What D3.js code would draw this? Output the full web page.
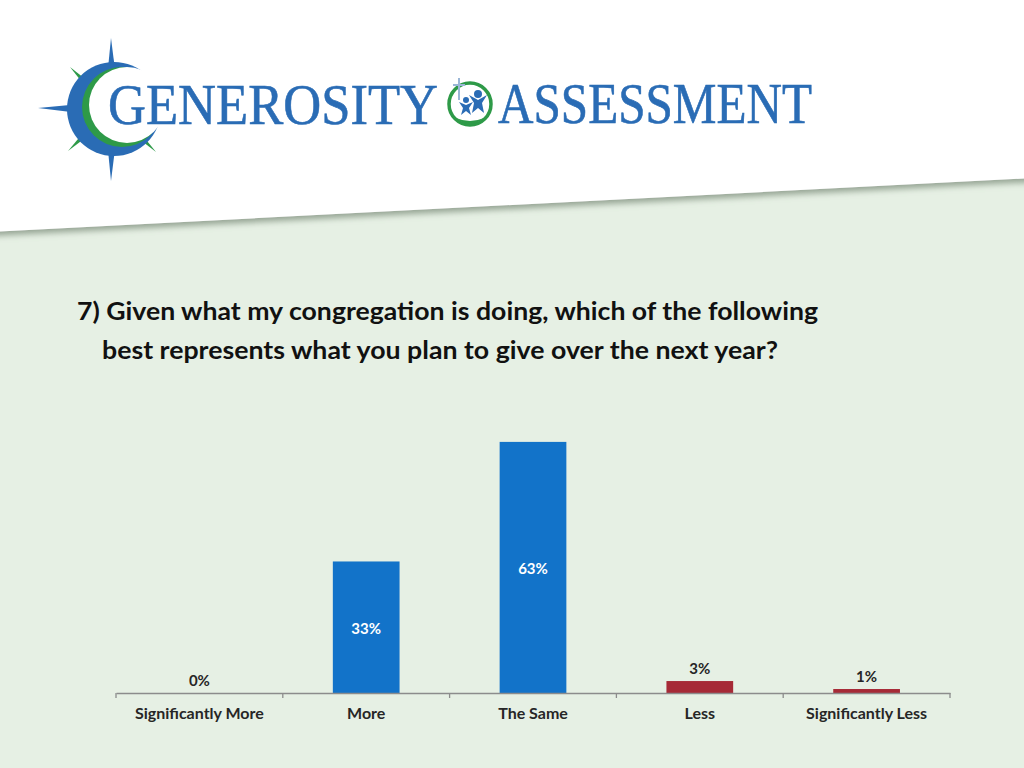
<!DOCTYPE html>
<html>
<head>
<meta charset="utf-8">
<script src="https://cdn.jsdelivr.net/npm/d3@7"></script>
<style>
  html, body { margin: 0; padding: 0; background: #e6f0e4; }
  svg { display: block; }
</style>
</head>
<body>
<svg id="slide" width="1024" height="768"></svg>
<script>
// Chart data
const categories = ["Significantly More", "More", "The Same", "Less", "Significantly Less"];
const values = [0, 33, 63, 3, 1];
const barColors = ["#1273c9", "#1273c9", "#1273c9", "#a62a36", "#a62a36"];
// labels that sit inside the bar (true) or above it (false)
const labelInside = [false, true, true, false, false];

const titleLines = [
  "7) Given what my congregation is doing, which of the following",
  "best represents what you plan to give over the next year?"
];

const width = 1024, height = 768;
const svg = d3.select("#slide");

// Background: green slide with white slanted header
const defs = svg.append("defs");
const shadow = defs.append("filter")
  .attr("id", "hdrShadow")
  .attr("x", "-5%").attr("y", "-5%")
  .attr("width", "110%").attr("height", "130%");
shadow.append("feDropShadow")
  .attr("dx", 0).attr("dy", 4)
  .attr("stdDeviation", 3)
  .attr("flood-color", "#7a8a78")
  .attr("flood-opacity", 0.75);

svg.append("rect")
  .attr("width", width).attr("height", height)
  .attr("fill", "#e6f0e4");

svg.append("path")
  .attr("d", "M-10,-10 L1034,-10 L1034,178 L-10,232 Z")
  .attr("fill", "#ffffff")
  .attr("filter", "url(#hdrShadow)");

// Logo
const logo = svg.append("g").attr("class", "logo");
const blue = "#2a6cb5", green = "#2e9a48";

// compass spikes
const spike = (x1, y1, x2, y2, w, color) => {
  const dx = x2 - x1, dy = y2 - y1, len = Math.hypot(dx, dy);
  const nx = -dy / len * w, ny = dx / len * w;
  logo.append("path")
    .attr("d", `M${x1 - nx},${y1 - ny} L${x2},${y2} L${x1 + nx},${y1 + ny} Z`)
    .attr("fill", color);
};
const cx = 112, cy = 109;
spike(cx, cy, 70, 67, 7, green);
spike(cx, cy, 68, 151, 7, green);
spike(cx, cy, 156, 152, 7, green);
spike(cx, cy, 111, 38, 8, blue);
spike(cx, cy, 111, 181, 8, blue);
spike(cx, cy, 38, 108, 8, blue);

// crescents
logo.append("circle").attr("cx", 114).attr("cy", 109).attr("r", 47).attr("fill", blue);
logo.append("circle").attr("cx", 122).attr("cy", 107).attr("r", 40).attr("fill", green);
logo.append("circle").attr("cx", 127).attr("cy", 105).attr("r", 38).attr("fill", "#ffffff");

logo.append("text")
  .attr("x", 108).attr("y", 124)
  .attr("font-family", "'Liberation Serif', 'DejaVu Serif', serif")
  .attr("font-size", 58)
  .attr("fill", blue)
  .attr("stroke", blue).attr("stroke-width", 0.6)
  .attr("textLength", 330)
  .attr("lengthAdjust", "spacingAndGlyphs")
  .text("GENEROSITY");

// small emblem between the words
const em = logo.append("g").attr("transform", "translate(470,104)");
em.append("circle").attr("r", 21).attr("fill", "none").attr("stroke", green).attr("stroke-width", 3.5);
em.append("path").attr("d", "M-14,14 Q0,26 14,14 Q0,20 -14,14 Z").attr("fill", green);
em.append("rect").attr("x", -12).attr("y", -26).attr("width", 2).attr("height", 22).attr("fill", "#9ab6d6");
em.append("rect").attr("x", -17).attr("y", -20).attr("width", 12).attr("height", 2).attr("fill", "#9ab6d6");
em.append("circle").attr("cx", -4).attr("cy", -4).attr("r", 3).attr("fill", blue);
em.append("path").attr("d", "M-11,-2 L-4,1 L3,-2 L-1,4 L1,11 L-4,7 L-9,11 L-7,4 Z").attr("fill", blue);
em.append("circle").attr("cx", 8).attr("cy", -10).attr("r", 4).attr("fill", blue);
em.append("path").attr("d", "M-1,-9 L8,-4 L17,-9 L12,-1 L14,9 L8,4 L2,9 L4,-1 Z").attr("fill", blue);

logo.append("text")
  .attr("x", 498).attr("y", 123)
  .attr("font-family", "'Liberation Serif', 'DejaVu Serif', serif")
  .attr("font-size", 56)
  .attr("fill", blue)
  .attr("stroke", blue).attr("stroke-width", 0.6)
  .attr("textLength", 314)
  .attr("lengthAdjust", "spacingAndGlyphs")
  .text("ASSESSMENT");

// Title
const title = svg.append("g")
  .attr("font-family", "Lato, 'Open Sans', sans-serif")
  .attr("font-weight", "bold")
  .attr("font-size", 24)
  .attr("fill", "#111");
title.append("text").attr("x", 77).attr("y", 320).attr("textLength", 741)
  .attr("lengthAdjust", "spacingAndGlyphs").text(titleLines[0]);
title.append("text").attr("x", 102).attr("y", 359).attr("textLength", 676)
  .attr("lengthAdjust", "spacingAndGlyphs").text(titleLines[1]);

// Chart
const plot = { left: 116, right: 950, bottom: 693, top: 414 };

const x = d3.scaleBand()
  .domain(categories)
  .range([plot.left, plot.right])
  .paddingInner(0.6)
  .paddingOuter(0.3);

const y = d3.scaleLinear()
  .domain([0, 70])
  .range([plot.bottom, plot.top]);

const chart = svg.append("g");

chart.selectAll("rect.bar")
  .data(values)
  .join("rect")
  .attr("class", "bar")
  .attr("x", (d, i) => x(categories[i]))
  .attr("y", d => y(d))
  .attr("width", x.bandwidth())
  .attr("height", d => plot.bottom - y(d))
  .attr("fill", (d, i) => barColors[i]);

// Axis
const axisBand = d3.scaleBand().domain(categories).range([plot.left, plot.right]);
const axis = chart.append("g")
  .attr("transform", `translate(0,${plot.bottom})`)
  .call(d3.axisBottom(axisBand).tickSize(0).tickPadding(15));
axis.select(".domain").attr("stroke", "#8c8c8c").attr("stroke-width", 1.3);
axis.selectAll(".tick text")
  .attr("font-family", "Lato, 'Open Sans', sans-serif")
  .attr("font-weight", "bold")
  .attr("font-size", 16)
  .attr("fill", "#262626");

// boundary tick marks between categories
const bounds = categories.map(c => axisBand(c)).concat([plot.right]);
chart.selectAll("line.bound")
  .data(bounds)
  .join("line")
  .attr("class", "bound")
  .attr("x1", d => d).attr("x2", d => d)
  .attr("y1", plot.bottom).attr("y2", plot.bottom + 5)
  .attr("stroke", "#8c8c8c")
  .attr("stroke-width", 1.3);

// Value labels
chart.selectAll("text.val")
  .data(values)
  .join("text")
  .attr("class", "val")
  .attr("x", (d, i) => x(categories[i]) + x.bandwidth() / 2)
  .attr("y", (d, i) => labelInside[i] ? (y(d) + plot.bottom) / 2 + 7 : y(d) - 7)
  .attr("text-anchor", "middle")
  .attr("font-family", "Lato, 'Open Sans', sans-serif")
  .attr("font-weight", "bold")
  .attr("font-size", 15)
  .attr("fill", (d, i) => labelInside[i] ? "#ffffff" : "#262626")
  .text(d => d + "%");
</script>
</body>
</html>
